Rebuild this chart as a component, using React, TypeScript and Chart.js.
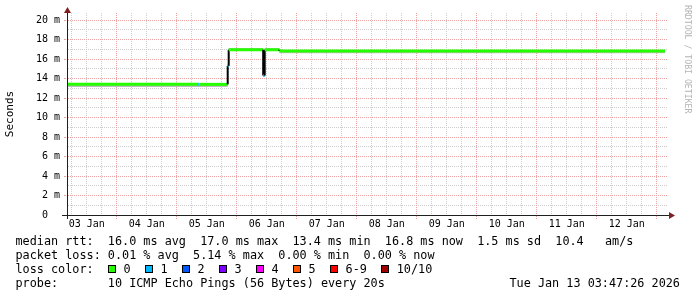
import { useEffect, useRef } from 'react';
import { Chart, registerables } from 'chart.js';

Chart.register(...registerables);

// ---- data (hours counted from 03 Jan 00:00) ----
const xStartHour = 4.12;
const xEndHour = 244.12;
const segStartHours = [4.12, 56.6, 57.0, 68.4, 68.8, 82.6, 83.2, 89.1];
const lastSampleHour = 243.3;
const medianMs = [13.4, 13.4, 13.4, 15.3, 16.95, 14.3, 16.95, 16.82];
const smokeLowMs = [13.12, 13.12, 13.12, 15.3, 16.85, 14.3, 16.85, 16.58];
const smokeHighMs = [13.45, 13.45, 13.45, 15.3, 17.12, 14.3, 17.12, 16.88];
const segLoss = [0, 1, 0, 1, 0, 1, 0, 0];

const lossColors = ['#26ff00', '#00b8ff', '#0059ff', '#7e00ff', '#ff00ff', '#ff5500', '#ff0000', '#a10000'];
const lossLabels = ['0', '1', '2', '3', '4', '5', '6-9', '10/10'];

const dayLabels = ['03 Jan', '04 Jan', '05 Jan', '06 Jan', '07 Jan', '08 Jan', '09 Jan', '10 Jan', '11 Jan', '12 Jan'];
const xGridHours = Array.from({ length: 40 }, (_, i) => 6 + i * 6);
const yTickValues = [0, 1, 2, 3, 4, 5, 6, 7, 8, 9, 10, 11, 12, 13, 14, 15, 16, 17, 18, 19, 20];
const yMax = 20.72;

const statLines = [
  'median rtt:  16.0 ms avg  17.0 ms max  13.4 ms min  16.8 ms now  1.5 ms sd  10.4   am/s',
  'packet loss: 0.01 % avg  5.14 % max  0.00 % min  0.00 % now',
];
const probeLine = 'probe:       10 ICMP Echo Pings (56 Bytes) every 20s';
const dateText = 'Tue Jan 13 03:47:26 2026';

const MAJOR = '#eaa2a2';
const MINOR = '#cdcdcd';
const MONO = "'DejaVu Sans Mono', monospace";

type P = { x: number; y: number; seg: number };

function stepPoints(values: number[]): P[] {
  const pts: P[] = [];
  for (let i = 0; i < segStartHours.length; i++) {
    const end = i + 1 < segStartHours.length ? segStartHours[i + 1] : lastSampleHour;
    pts.push({ x: segStartHours[i], y: values[i], seg: i });
    pts.push({ x: end, y: values[i], seg: i });
  }
  return pts;
}

// dotted rrdtool-style grid, positioned through the chart's own scales
const gridPlugin = {
  id: 'rrdGrid',
  beforeDatasetsDraw(chart: any) {
    const { ctx, chartArea: a, scales } = chart;
    const xs = scales.x;
    const ys = scales.y;
    const L = Math.floor(a.left);
    const R = Math.floor(a.right) + 1;
    const T = Math.floor(a.top);
    const B = Math.floor(a.bottom);
    ctx.save();
    for (const pass of [0, 1]) {
      const wantMajor = pass === 1;
      ctx.fillStyle = wantMajor ? MAJOR : MINOR;
      for (const h of xGridHours) {
        const major = h % 24 === 0;
        if (major !== wantMajor) continue;
        const col = Math.floor(xs.getPixelForValue(h));
        for (let r = T; r < B; r += 2) ctx.fillRect(col, r, 1, 1);
        if (major) for (let r = B + 1; r <= B + 3; r += 2) ctx.fillRect(col, r, 1, 1);
      }
      for (const v of yTickValues) {
        if (v === 0) continue;
        const major = v % 2 === 0;
        if (major !== wantMajor) continue;
        const row = Math.floor(ys.getPixelForValue(v));
        for (let c = L + 1; c < R; c += 2) ctx.fillRect(c, row, 1, 1);
        if (major) ctx.fillRect(L - 3, row, 2, 1);
      }
    }
    ctx.restore();
  },
};

const axisPlugin = {
  id: 'rrdAxes',
  afterDraw(chart: any) {
    const { ctx, chartArea: a } = chart;
    ctx.save();
    ctx.strokeStyle = '#1f1f1f';
    ctx.lineWidth = 1;
    ctx.beginPath();
    ctx.moveTo(a.left - 5, a.bottom + 0.5);
    ctx.lineTo(a.right + 3, a.bottom + 0.5);
    ctx.moveTo(a.left + 0.5, a.bottom + 4);
    ctx.lineTo(a.left + 0.5, a.top - 2);
    ctx.stroke();
    ctx.fillStyle = 'rgb(128,31,31)';
    ctx.beginPath();
    ctx.moveTo(a.right + 2, a.bottom - 3);
    ctx.lineTo(a.right + 8, a.bottom + 0.5);
    ctx.lineTo(a.right + 2, a.bottom + 4);
    ctx.closePath();
    ctx.fill();
    ctx.beginPath();
    ctx.moveTo(a.left - 3, a.top);
    ctx.lineTo(a.left + 0.5, a.top - 6);
    ctx.lineTo(a.left + 4, a.top);
    ctx.closePath();
    ctx.fill();
    ctx.restore();
  },
};

export default function App() {
  const ref = useRef<HTMLCanvasElement | null>(null);

  useEffect(() => {
    document.body.style.margin = '0';
    const medianPts = stepPoints(medianMs);
    const lowPts = stepPoints(smokeLowMs);
    const highPts = stepPoints(smokeHighMs);

    const chart = new Chart(ref.current as HTMLCanvasElement, {
      type: 'line',
      data: {
        datasets: [
          {
            data: medianPts as any,
            borderWidth: 3,
            pointRadius: 0,
            fill: false,
            tension: 0,
            borderColor: '#26ff00',
            segment: {
              borderColor: (c: any) => {
                const a = medianPts[c.p0DataIndex];
                const b = medianPts[c.p1DataIndex];
                if (a.y !== b.y) return '#000000';
                return lossColors[segLoss[a.seg]];
              },
              borderWidth: (c: any) => {
                const a = medianPts[c.p0DataIndex];
                const b = medianPts[c.p1DataIndex];
                return a.y !== b.y ? 2 : 3;
              },
            },
          },
          {
            data: highPts as any,
            borderWidth: 0,
            borderColor: 'transparent',
            backgroundColor: '#bdbdbd',
            pointRadius: 0,
            fill: '+1',
          },
          {
            data: lowPts as any,
            borderWidth: 0,
            borderColor: 'transparent',
            pointRadius: 0,
            fill: false,
          },
        ],
      },
      options: {
        responsive: false,
        devicePixelRatio: 1,
        animation: false,
        events: [],
        layout: { padding: { top: 13, right: 30, left: 0, bottom: 0 } },
        plugins: { legend: { display: false }, tooltip: { enabled: false } },
        scales: {
          x: {
            type: 'linear',
            min: xStartHour,
            max: xEndHour,
            afterBuildTicks: (s: any) => {
              s.ticks = xGridHours.map((v) => ({ value: v }));
            },
            afterFit: (s: any) => {
              s.height = 82;
            },
            grid: { display: false, drawTicks: true, tickLength: 3 },
            border: { display: false },
            ticks: {
              autoSkip: false,
              maxRotation: 0,
              minRotation: 0,
              padding: 0,
              color: '#000',
              font: { family: MONO, size: 10 },
              callback: (v: any) => {
                const h = Number(v);
                if (h % 24 === 12) return dayLabels[(h - 12) / 24] ?? '';
                return '';
              },
            },
          },
          y: {
            type: 'linear',
            min: 0,
            max: yMax,
            afterBuildTicks: (s: any) => {
              s.ticks = yTickValues.map((v) => ({ value: v }));
            },
            afterFit: (s: any) => {
              s.width = 67;
            },
            grid: { display: false, drawTicks: true, tickLength: 2 },
            border: { display: false },
            ticks: {
              autoSkip: false,
              padding: 5,
              color: '#000',
              font: { family: MONO, size: 10 },
              callback: (v: any) => {
                const n = Number(v);
                if (n === 0) return '0  ';
                return n % 2 === 0 ? `${n} m` : '';
              },
            },
            title: {
              display: true,
              text: 'Seconds',
              color: '#000',
              font: { family: MONO, size: 11 },
              padding: { top: 3.4, bottom: 0 },
            },
          },
        },
      },
      plugins: [gridPlugin, axisPlugin],
    } as any);
    return () => chart.destroy();
  }, []);

  const lineStyle = (top: number): any => ({
    position: 'absolute',
    left: 15.5,
    top,
    height: 14,
    lineHeight: '14px',
    whiteSpace: 'pre',
    fontFamily: MONO,
    fontSize: 11.8,
    color: '#000',
  });

  return (
    <div style={{ position: 'fixed', left: 0, top: 0, width: 697, height: 297, background: '#fff', overflow: 'hidden' }}>
      <canvas ref={ref} width={697} height={297} style={{ position: 'absolute', left: 0, top: 0, width: 697, height: 297 }} />
      <div style={lineStyle(233.9)}>{statLines[0]}</div>
      <div style={lineStyle(247.9)}>{statLines[1]}</div>
      <div style={lineStyle(262.2)}>
        {'loss color:  '}
        {lossLabels.map((lab, i) => (
          <span key={lab}>
            <span
              style={{
                display: 'inline-block',
                width: 8,
                height: 8,
                boxSizing: 'border-box',
                border: '1px solid #000',
                background: lossColors[i],
                marginRight: 7.7,
              }}
            />
            {lab + (i < lossLabels.length - 1 ? '  ' : '')}
          </span>
        ))}
      </div>
      <div style={lineStyle(275.6)}>{probeLine}</div>
      <div style={{ ...lineStyle(275.6), left: 509.5 }}>{dateText}</div>
      <div
        style={{
          position: 'absolute',
          left: 682.5,
          top: 5,
          writingMode: 'vertical-rl',
          fontFamily: MONO,
          fontSize: 8.2,
          lineHeight: '10px',
          whiteSpace: 'pre',
          color: '#b4b4b4',
        }}
      >
        RRDTOOL / TOBI OETIKER
      </div>
    </div>
  );
}
